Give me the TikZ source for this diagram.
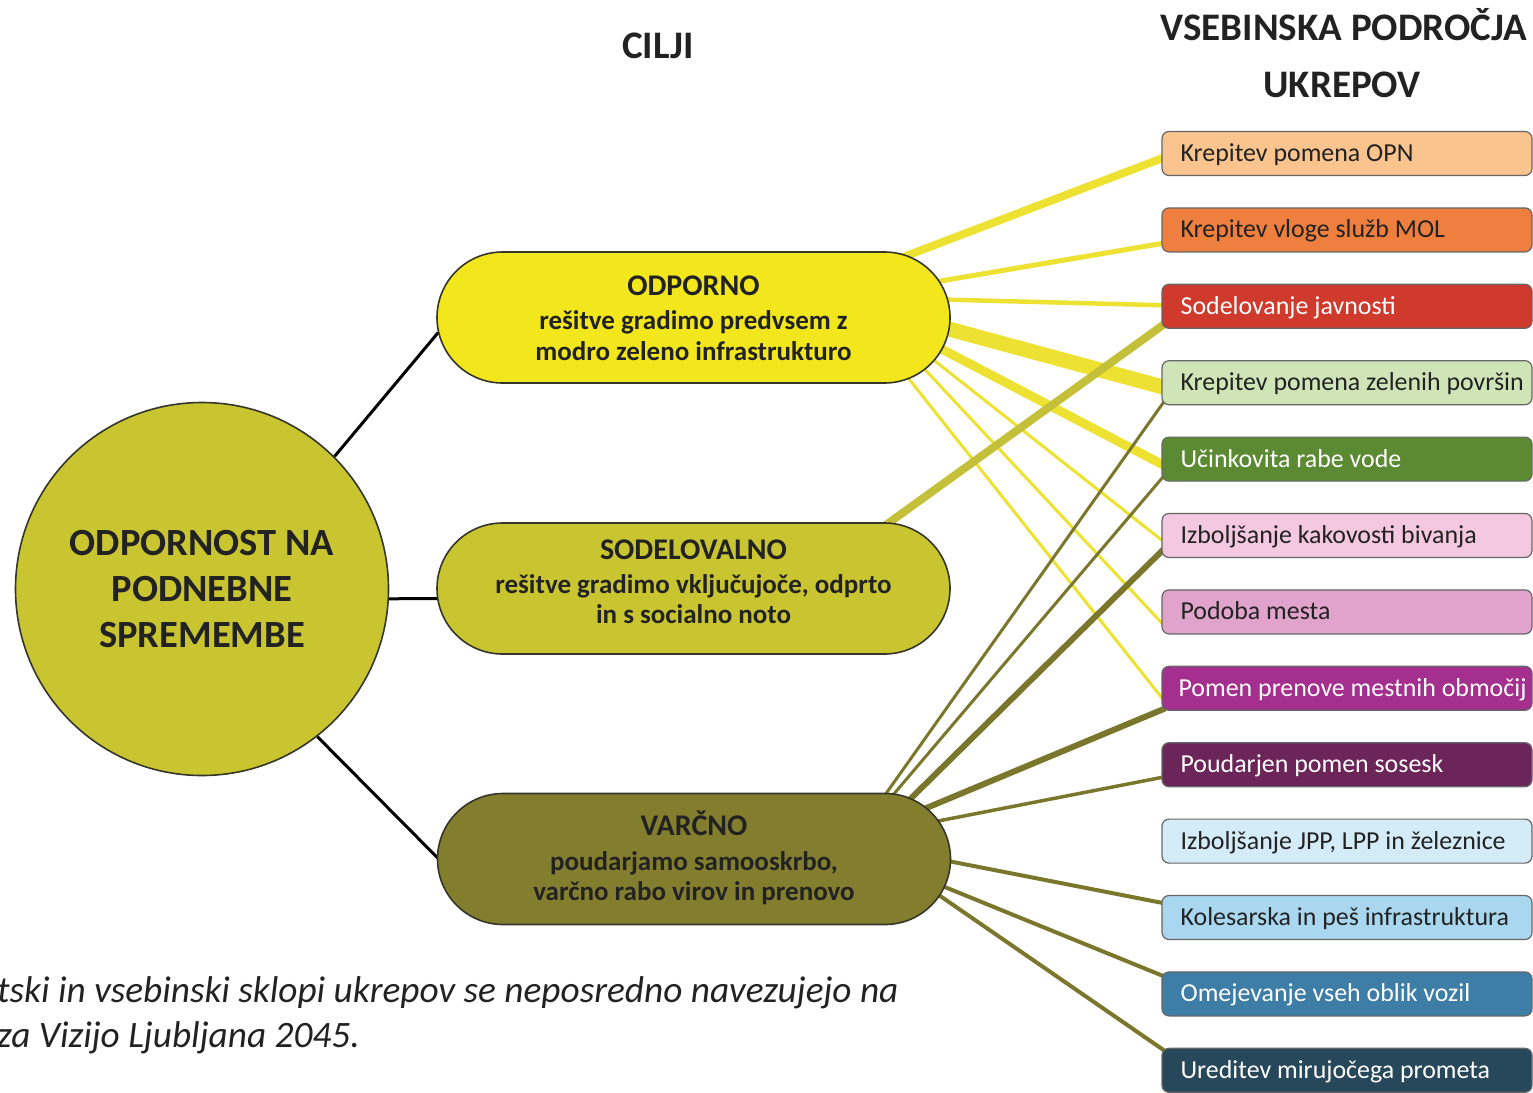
\documentclass[tikz,border=0pt]{standalone}
\usepackage{fontspec}
\setmainfont{Carlito}
\usetikzlibrary{calc,backgrounds,shapes.misc}
\definecolor{cYel}{HTML}{F2E61C}
\definecolor{cYelL}{HTML}{EDE131}
\definecolor{cSod}{HTML}{C9C530}
\definecolor{cSodL}{HTML}{C4C03A}
\definecolor{cVar}{HTML}{837D2E}
\definecolor{cVarL}{HTML}{7A772C}
\definecolor{cEdge}{HTML}{35352A}
\definecolor{cB1}{HTML}{F9C48E}
\definecolor{cB2}{HTML}{EF7F3F}
\definecolor{cB3}{HTML}{CF3A2C}
\definecolor{cB4}{HTML}{CFE5B8}
\definecolor{cB5}{HTML}{5B8A33}
\definecolor{cB6}{HTML}{F3C8E0}
\definecolor{cB7}{HTML}{E0A3CB}
\definecolor{cB8}{HTML}{A52F8E}
\definecolor{cB9}{HTML}{6B2558}
\definecolor{cB10}{HTML}{D4ECF8}
\definecolor{cB11}{HTML}{AAD7F0}
\definecolor{cB12}{HTML}{3E7DA5}
\definecolor{cB13}{HTML}{27475A}
\definecolor{cTxt}{HTML}{222222}
\begin{document}
\begin{tikzpicture}[x=1pt,y=-1pt,
  stadium/.style={draw=cEdge, line width=1.6pt, rounded rectangle, minimum width=513pt, minimum height=131pt, inner sep=0pt},
  boxnode/.style={draw=black!60, line width=1.2pt, rectangle, rounded corners=7pt, minimum width=370pt, minimum height=44pt, inner sep=0pt},
  boxlbl/.style={anchor=base west, inner sep=0pt, font=\fontsize{25.9}{28}\selectfont},
  dk/.style={text=cTxt},
  wt/.style={text=white},
  title/.style={font=\bfseries\fontsize{39}{46}\selectfont, text=cTxt, inner sep=0pt, anchor=base},
  head/.style={font=\bfseries\fontsize{30}{34}\selectfont, text=cTxt, inner sep=0pt, anchor=base},
  sub/.style={font=\bfseries\fontsize{27}{31}\selectfont, text=cTxt, inner sep=0pt, anchor=base},
  big/.style={font=\bfseries\fontsize{38.5}{45}\selectfont, text=cTxt, inner sep=0pt, anchor=base},
  capt/.style={font=\itshape\fontsize{37.3}{44}\selectfont, text=cTxt, inner sep=0pt, anchor=base west},
  blk/.style={draw=black, line width=3pt},
  ylw/.style={draw=cYelL},
  sdl/.style={draw=cSodL},
  vrl/.style={draw=cVarL}]
\useasboundingbox (0,0) rectangle (1533,1092);
\clip (0,0) rectangle (1533,1092);

% titles
\node[title] (tCilji) at (658,58) {CILJI};
\node[title] (tVseb1) at (1344,40) {VSEBINSKA PODROČJA};
\node[title] (tVseb2) at (1342,97) {UKREPOV};

% main circle
\node[circle, draw=cEdge, line width=1.6pt, fill=cSod, minimum size=373pt, inner sep=0pt] (main) at (202,589) {};
\node[big] (m1) at (202,555) {ODPORNOST NA};
\node[big] (m2) at (202,601) {PODNEBNE};
\node[big] (m3) at (202,647) {SPREMEMBE};

% goals
\node[stadium, fill=cYel] (odp) at (693.5,317.5) {};
\node[head] (odpH) at ($(odp.center)+(0,-22.5)$) {ODPORNO};
\node[sub] (odpA) at ($(odp.center)+(0,12)$) {rešitve gradimo predvsem z};
\node[sub] (odpB) at ($(odp.center)+(0,42.5)$) {modro zeleno infrastrukturo};

\node[stadium, fill=cSod] (sod) at (693.5,588.5) {};
\node[head] (sodH) at ($(sod.center)+(0,-29.5)$) {SODELOVALNO};
\node[sub] (sodA) at ($(sod.center)+(0,4.5)$) {rešitve gradimo vključujoče, odprto};
\node[sub] (sodB) at ($(sod.center)+(0,34.5)$) {in s socialno noto};

\node[stadium, fill=cVar] (var) at (694,859) {};
\node[head] (varH) at ($(var.center)+(0,-23.5)$) {VARČNO};
\node[sub] (varA) at ($(var.center)+(0,11.5)$) {poudarjamo samooskrbo,};
\node[sub] (varB) at ($(var.center)+(0,41.5)$) {varčno rabo virov in prenovo};

% boxes
\node[boxnode, fill=cB1] (b1) at (1347,153.5) {};
\node[boxnode, fill=cB2] (b2) at (1347,229.9) {};
\node[boxnode, fill=cB3] (b3) at (1347,306.3) {};
\node[boxnode, fill=cB4] (b4) at (1347,382.7) {};
\node[boxnode, fill=cB5] (b5) at (1347,459.1) {};
\node[boxnode, fill=cB6] (b6) at (1347,535.5) {};
\node[boxnode, fill=cB7] (b7) at (1347,611.9) {};
\node[boxnode, fill=cB8] (b8) at (1347,688.3) {};
\node[boxnode, fill=cB9] (b9) at (1347,764.7) {};
\node[boxnode, fill=cB10] (b10) at (1347,841.1) {};
\node[boxnode, fill=cB11] (b11) at (1347,917.5) {};
\node[boxnode, fill=cB12] (b12) at (1347,993.9) {};
\node[boxnode, fill=cB13] (b13) at (1347,1070.3) {};

\node[boxlbl, dk] (l1) at ($(b1.west)+(19,8)$) {Krepitev pomena OPN};
\node[boxlbl, dk] (l2) at ($(b2.west)+(19,8)$) {Krepitev vloge služb MOL};
\node[boxlbl, wt] (l3) at ($(b3.west)+(19,8)$) {Sodelovanje javnosti};
\node[boxlbl, dk] (l4) at ($(b4.west)+(19,8)$) {Krepitev pomena zelenih površin};
\node[boxlbl, wt] (l5) at ($(b5.west)+(19,8)$) {Učinkovita rabe vode};
\node[boxlbl, dk] (l6) at ($(b6.west)+(19,8)$) {Izboljšanje kakovosti bivanja};
\node[boxlbl, dk] (l7) at ($(b7.west)+(19,8)$) {Podoba mesta};
\node[boxlbl, wt] (l8) at ($(b8.west)+(17,8)$) {Pomen prenove mestnih območij};
\node[boxlbl, wt] (l9) at ($(b9.west)+(19,8)$) {Poudarjen pomen sosesk};
\node[boxlbl, dk] (l10) at ($(b10.west)+(19,8)$) {Izboljšanje JPP, LPP in železnice};
\node[boxlbl, dk] (l11) at ($(b11.west)+(19,8)$) {Kolesarska in peš infrastruktura};
\node[boxlbl, wt] (l12) at ($(b12.west)+(19,8)$) {Omejevanje vseh oblik vozil};
\node[boxlbl, wt] (l13) at ($(b13.west)+(19,8)$) {Ureditev mirujočega prometa};

% caption
\node[capt] (cap1) at (-3,1002) {tski in vsebinski sklopi ukrepov se neposredno navezujejo na};
\node[capt] (cap2) at (-3,1047) {za Vizijo Ljubljana 2045.};

\begin{scope}[on background layer]
  % black connectors
  \draw[blk] (main.45) -- ($(odp.west)+(2,15)$);
  \draw[blk] (main.-3) -- ($(sod.west)+(2,10)$);
  \draw[blk] (main.-52) -- ($(var.west)+(2,0)$);
  % ODPORNO connectors
  \draw[ylw, line width=8pt]   ($(odp.center)+(191.5,-53.5)$) -- ($(b1.west)+(4,3.5)$);
  \draw[ylw, line width=5pt]   ($(odp.center)+(223.5,-32.5)$) -- ($(b2.west)+(4,13)$);
  \draw[ylw, line width=4.5pt] ($(odp.center)+(229.5,-18.5)$) -- ($(b3.west)+(4,-1)$);
  \draw[ylw, line width=15pt]  ($(odp.center)+(229.5,4.5)$) -- ($(b4.west)+(4,5)$);
  \draw[ylw, line width=9pt]   ($(odp.center)+(227,20.5)$) -- ($(b5.west)+(4,7)$);
  \draw[ylw, line width=3pt]   ($(odp.center)+(225,30.5)$) -- ($(b6.west)+(4,7.5)$);
  \draw[ylw, line width=3pt]   ($(odp.center)+(216,35.5)$) -- ($(b7.west)+(4,15)$);
  \draw[ylw, line width=3pt]   ($(odp.center)+(200,42)$) -- ($(b8.west)+(4,14)$);
  % SODELOVALNO connector
  \draw[sdl, line width=8pt]   ($(sod.center)+(175,-51)$) -- ($(b3.west)+(4,17)$);
  % VARCNO connectors
  \draw[vrl, line width=3pt]   ($(var.center)+(175,-41.5)$) -- ($(b4.west)+(4,17)$);
  \draw[vrl, line width=3pt]   ($(var.center)+(182,-44)$) -- ($(b5.west)+(4,15)$);
  \draw[vrl, line width=6pt]   ($(var.center)+(197,-41)$) -- ($(b6.west)+(4,12)$);
  \draw[vrl, line width=6pt]   ($(var.center)+(212,-42.5)$) -- ($(b8.west)+(4,20)$);
  \draw[vrl, line width=3.5pt] ($(var.center)+(218.5,-33)$) -- ($(b9.west)+(4,12)$);
  \draw[vrl, line width=4pt]   ($(var.center)+(228.5,-3)$) -- ($(b11.west)+(4,-14)$);
  \draw[vrl, line width=4pt]   ($(var.center)+(225,17.5)$) -- ($(b12.west)+(4,-17)$);
  \draw[vrl, line width=4pt]   ($(var.center)+(223,21)$) -- ($(b13.west)+(4,-19)$);
\end{scope}
\end{tikzpicture}
\end{document}
